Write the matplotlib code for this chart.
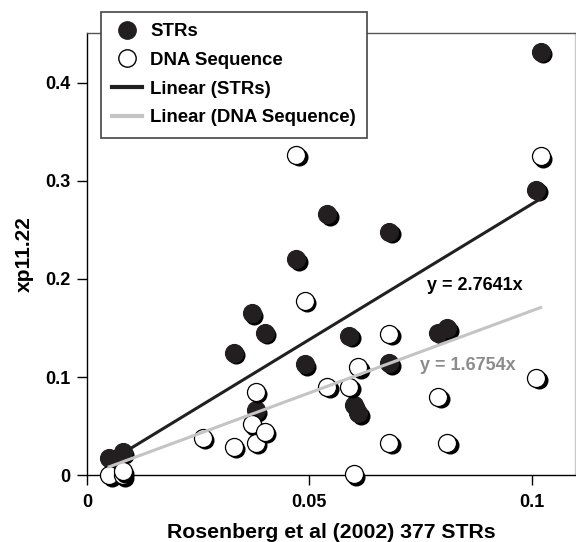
import matplotlib
matplotlib.use("Agg")
import matplotlib.pyplot as plt
import matplotlib.transforms as mtransforms
from matplotlib.lines import Line2D
import numpy as np

FILL_COLOR = "#231f20"
TREND_STR_COLOR = "#231f20"
TREND_DNA_COLOR = "#c4c4c4"
LABEL_DNA_COLOR = "#8c8c8c"

# STRs (filled markers)
str_x = [0.005, 0.008, 0.033, 0.037, 0.038, 0.040, 0.047, 0.049, 0.054, 0.059,
         0.060, 0.061, 0.068, 0.068, 0.079, 0.081, 0.101, 0.102]
str_y = [0.017, 0.023, 0.125, 0.165, 0.066, 0.145, 0.220, 0.113, 0.266, 0.142,
         0.071, 0.063, 0.248, 0.114, 0.145, 0.150, 0.291, 0.432]

# DNA Sequence (open markers)
dna_x = [0.005, 0.008, 0.008, 0.026, 0.033, 0.037, 0.038, 0.038, 0.040, 0.047,
         0.049, 0.054, 0.059, 0.060, 0.061, 0.068, 0.068, 0.079, 0.081, 0.101,
         0.102]
dna_y = [0.000, 0.000, 0.004, 0.038, 0.029, 0.052, 0.085, 0.033, 0.044, 0.327,
         0.178, 0.090, 0.090, 0.001, 0.110, 0.144, 0.033, 0.080, 0.033, 0.099,
         0.325]

# trend lines forced through the origin
str_slope = 2.7641
dna_slope = 1.6754

x_ticks = [0, 0.05, 0.1]
x_tick_labels = ["0", "0.05", "0.1"]
y_ticks = [0, 0.1, 0.2, 0.3, 0.4]
y_tick_labels = ["0", "0.1", "0.2", "0.3", "0.4"]

plt.rcParams["font.family"] = ["Liberation Sans", "DejaVu Sans"]
plt.rcParams["font.weight"] = "bold"

fig = plt.figure(figsize=(5.76, 5.42), dpi=100)
ax = fig.add_axes([0.151, 0.1236, 0.847, 0.8155])

shadow = mtransforms.offset_copy(ax.transData, fig=fig, x=2.5, y=-2.5, units="dots")
msize = 13

ax.plot(str_x, str_y, "o", ms=msize, color="black", mec="none",
        transform=shadow, zorder=2, clip_on=False)
ax.plot(str_x, str_y, "o", ms=msize, color=FILL_COLOR, mec=FILL_COLOR,
        mew=0.8, zorder=3, clip_on=False)
for xv, yv in zip(dna_x, dna_y):
    ax.plot([xv], [yv], "o", ms=msize, color="black", mec="none",
            transform=shadow, zorder=4, clip_on=False)
    ax.plot([xv], [yv], "o", ms=msize, mfc="white", mec="black",
            mew=0.9, zorder=4, clip_on=False)

sx = np.array([min(str_x), max(str_x)])
dx = np.array([min(dna_x), max(dna_x)])
ax.plot(sx, str_slope * sx, color=TREND_STR_COLOR, lw=2.2, zorder=6)
ax.plot(dx, dna_slope * dx, color=TREND_DNA_COLOR, lw=2.2, zorder=6)

ax.text(0.0873, 0.193, f"y = {str_slope:.4f}x", fontsize=13, fontweight="bold",
        color="black", ha="center", va="center", zorder=7)
ax.text(0.0856, 0.112, f"y = {dna_slope:.4f}x", fontsize=13, fontweight="bold",
        color=LABEL_DNA_COLOR, ha="center", va="center", zorder=7)

ax.set_xlim(0, 0.1097)
ax.set_ylim(0, 0.451)
ax.set_xticks(x_ticks)
ax.set_xticklabels(x_tick_labels)
ax.set_yticks(y_ticks)
ax.set_yticklabels(y_tick_labels)
ax.tick_params(direction="out", length=7, width=1, labelsize=13, colors="black")
ax.tick_params(axis="x", pad=7)
ax.tick_params(axis="y", pad=5)
for lab in ax.get_xticklabels() + ax.get_yticklabels():
    lab.set_fontweight("bold")

ax.spines["left"].set_color("black")
ax.spines["bottom"].set_color("black")
ax.spines["top"].set_color("#555555")
ax.spines["right"].set_color("#c8c8c8")
for sp in ax.spines.values():
    sp.set_linewidth(1.0)

ax.set_xlabel("Rosenberg et al (2002) 377 STRs", fontsize=15.3, fontweight="bold", labelpad=8)
ax.set_ylabel("xp11.22", fontsize=15, fontweight="bold", labelpad=8)

handles = [
    Line2D([], [], marker="o", ls="none", ms=12.5, color=FILL_COLOR),
    Line2D([], [], marker="o", ls="none", ms=12.5, mfc="white", mec="black", mew=1.0),
    Line2D([], [], color=TREND_STR_COLOR, lw=3),
    Line2D([], [], color=TREND_DNA_COLOR, lw=3),
]
labels = ["STRs", "DNA Sequence", "Linear (STRs)", "Linear (DNA Sequence)"]
leg = fig.legend(handles, labels, loc="upper left", bbox_to_anchor=(101 / 576, 1 - 12 / 542),
                 frameon=True, fancybox=False, edgecolor="#444444", framealpha=1,
                 prop={"size": 13.4, "weight": "bold"}, handlelength=1.6,
                 handletextpad=0.45, labelspacing=0.63, borderpad=0.6, borderaxespad=0)
leg.get_frame().set_linewidth(1.2)
leg.set_zorder(10)

fig.savefig("out.png", dpi=100, facecolor="white")
